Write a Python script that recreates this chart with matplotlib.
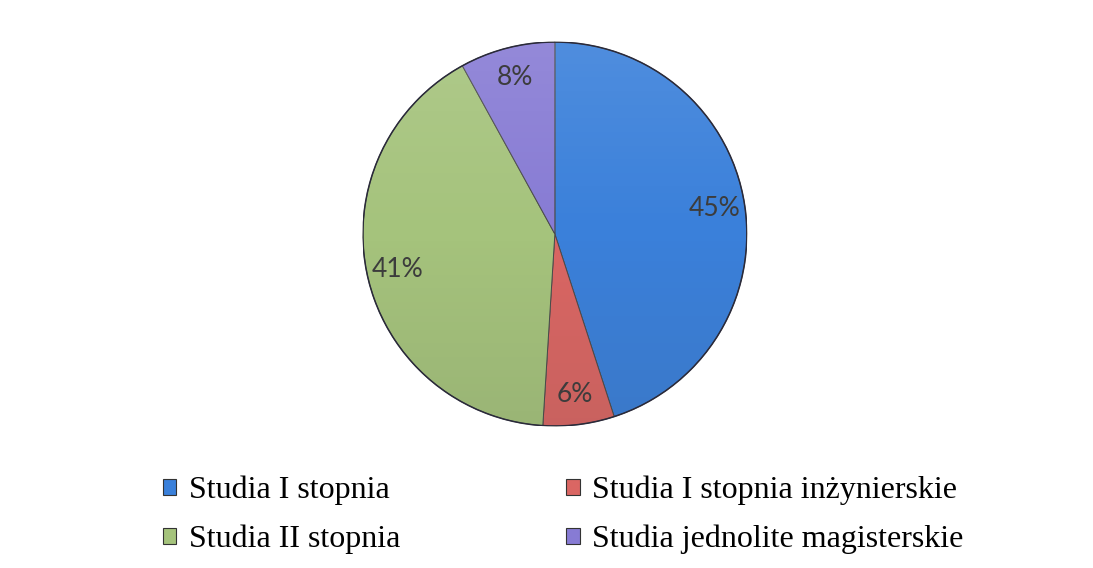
import numpy as np
import matplotlib.pyplot as plt
from matplotlib.patches import Patch, Circle

# dane
kategorie = ['Studia I stopnia', 'Studia I stopnia inżynierskie',
             'Studia II stopnia', 'Studia jednolite magisterskie']
udzialy = [45, 6, 41, 8]
kolory = ['#3a80da', '#da6663', '#a5c37c', '#877bd4']

fig = plt.figure(figsize=(10.93, 5.68), dpi=100)
fig.patch.set_facecolor('white')

# os kolowa: srodek ok. (555, 234) px, promien ok. 192 px
ax = fig.add_axes([0.332, 0.25, 0.3513, 0.676])
wedges, teksty, procenty = ax.pie(
    udzialy, colors=kolory, startangle=90, counterclock=False,
    autopct='%1.0f%%', pctdistance=0.84, radius=1.0,
    wedgeprops=dict(edgecolor='#4a4a4a', linewidth=0.7),
    textprops=dict(color='#3c3c3c', fontsize=19, family='Lato', zorder=5))

# delikatny gradient (jasniej u gory, ciemniej u dolu) jak w oryginale
gy = np.linspace(1, 0, 200)[:, None] * np.ones((1, 200))
nakladka = np.zeros((200, 200, 4))
nakladka[..., :3] = np.where(gy[..., None] > 0.5, 1.0, 0.25)
nakladka[..., 3] = np.abs(gy - 0.5) * 0.22
obraz = ax.imshow(nakladka, extent=[-1, 1, -1, 1], origin='upper', zorder=3)
obraz.set_clip_path(Circle((0, 0), 1.0, transform=ax.transData))
ax.add_patch(Circle((0, 0), 1.0, fill=False, edgecolor='#2a2a3a', linewidth=1.1, zorder=4))

ax.set_xlim(-1, 1)
ax.set_ylim(-1, 1)
ax.set_aspect('equal')
ax.axis('off')

# legenda w dwoch kolumnach (matplotlib wypelnia kolumnami)
kolejnosc = [0, 2, 1, 3]
uchwyty = [Patch(facecolor=kolory[i], edgecolor='#333333', linewidth=0.8) for i in kolejnosc]
etykiety = [kategorie[i] for i in kolejnosc]
fig.legend(uchwyty, etykiety, ncol=2, loc='upper left',
           bbox_to_anchor=(0.137, 0.185), frameon=False,
           prop=dict(family='Liberation Serif', size=23),
           handlelength=0.42, handleheight=0.42, handletextpad=0.4,
           columnspacing=5.2, labelspacing=0.61, borderaxespad=0)

fig.savefig('out.png', dpi=100)
